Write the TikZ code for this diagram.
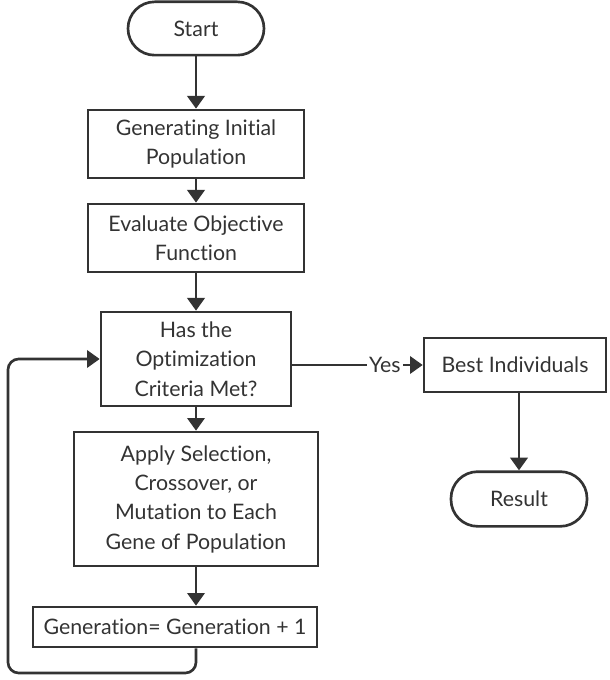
\documentclass[tikz,border=0pt]{standalone}
\usepackage{fontspec}
\setmainfont[Ligatures=NoCommon]{Lato}
\usetikzlibrary{arrows.meta}
\definecolor{ink}{HTML}{333333}
\tikzset{
  box/.style={draw=ink, line width=2pt, rectangle, align=center, text=ink, inner sep=2pt},
  term/.style={box, rounded corners=20pt},
  line/.style={draw=ink, line width=2pt},
  arrow/.style={line, -{Triangle[width=13pt,length=9.5pt]}}
}
\begin{document}
\begin{tikzpicture}[x=0.75pt, y=-0.75pt, font=\fontsize{16}{22}\selectfont]
\useasboundingbox (0,0) rectangle (609,680);
\node[term, minimum width=102pt, minimum height=40pt] (start) at (196,28.5) {Start};
\node[box, minimum width=162pt, minimum height=51pt] (init) at (196,144) {Generating Initial\\Population};
\node[box, minimum width=162pt, minimum height=51pt] (eval) at (196,238) {Evaluate Objective\\Function};
\node[box, minimum width=142.5pt, minimum height=70.5pt] (crit) at (196,359) {Has the\\Optimization\\Criteria Met?};
\node[box, minimum width=183pt, minimum height=100.5pt] (apply) at (196,499) {Apply Selection,\\Crossover, or\\Mutation to Each\\Gene of Population};
\node[box, minimum width=213pt, minimum height=30pt] (gen) at (175,627) {Generation= Generation + 1};
\node[box, minimum width=136.5pt, minimum height=40.5pt] (best) at (515,365) {Best Individuals};
\node[term, minimum width=102pt, minimum height=41pt] (result) at (519,499) {Result};
\coordinate (loop) at (8,673);

\path[arrow] (start) -- (init);
\path[arrow] (init) -- (eval);
\path[arrow] (eval) -- (crit);
\path[arrow] (crit) -- (apply);
\path[arrow] (apply) -- (apply |- gen.north);
\path[arrow] (crit.east |- best.west) -- node[pos=0.71, fill=white, text=ink, inner sep=1.5pt] {Yes} (best.west);
\path[arrow] (best.south -| result) -- (result);
\path[arrow, rounded corners=8pt] (apply |- gen.south) |- (loop) |- (crit.west);
\end{tikzpicture}
\end{document}
